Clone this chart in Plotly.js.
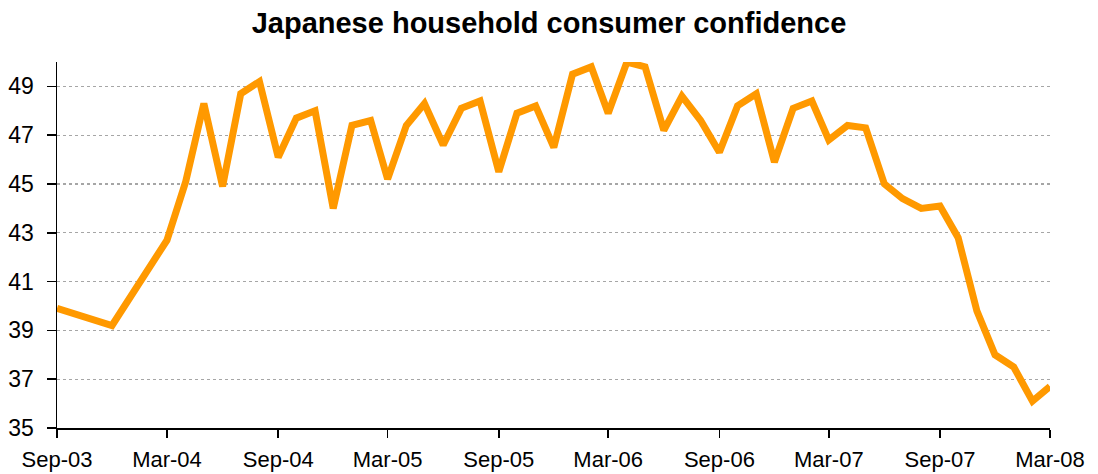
<!DOCTYPE html>
<html>
<head>
<meta charset="utf-8">
<script src="https://cdn.plot.ly/plotly-3.0.1.min.js"></script>
<style>
html,body{margin:0;padding:0;background:#fff;}
#chart{width:1098px;height:474px;}
</style>
</head>
<body>
<div id="chart"></div>
<script>
var months = [
  "2003-09-01","2003-12-01","2004-03-01",
  "2004-04-01","2004-05-01","2004-06-01","2004-07-01","2004-08-01","2004-09-01",
  "2004-10-01","2004-11-01","2004-12-01","2005-01-01","2005-02-01","2005-03-01",
  "2005-04-01","2005-05-01","2005-06-01","2005-07-01","2005-08-01","2005-09-01",
  "2005-10-01","2005-11-01","2005-12-01","2006-01-01","2006-02-01","2006-03-01",
  "2006-04-01","2006-05-01","2006-06-01","2006-07-01","2006-08-01","2006-09-01",
  "2006-10-01","2006-11-01","2006-12-01","2007-01-01","2007-02-01","2007-03-01",
  "2007-04-01","2007-05-01","2007-06-01","2007-07-01","2007-08-01","2007-09-01",
  "2007-10-01","2007-11-01","2007-12-01","2008-01-01","2008-02-01","2008-03-01"
];
var confidence = [
  39.9, 39.2, 42.7,
  45.1, 48.3, 44.9, 48.7, 49.2, 46.1,
  47.7, 48.0, 44.0, 47.4, 47.6, 45.2,
  47.4, 48.3, 46.6, 48.1, 48.4, 45.5,
  47.9, 48.2, 46.5, 49.5, 49.8, 47.9,
  50.0, 49.8, 47.2, 48.6, 47.6, 46.3,
  48.2, 48.7, 45.9, 48.1, 48.4, 46.8,
  47.4, 47.3, 45.0, 44.4, 44.0, 44.1,
  42.8, 39.8, 38.0, 37.5, 36.1, 36.7
];
var xTickVals = ["2003-09-01","2004-03-01","2004-09-01","2005-03-01","2005-09-01",
                 "2006-03-01","2006-09-01","2007-03-01","2007-09-01","2008-03-01"];
var xTickText = ["Sep-03","Mar-04","Sep-04","Mar-05","Sep-05",
                 "Mar-06","Sep-06","Mar-07","Sep-07","Mar-08"];
var yTickVals = [35, 37, 39, 41, 43, 45, 47, 49];

var trace = {
  x: months,
  y: confidence,
  type: "scatter",
  mode: "lines",
  line: {color: "#FF9900", width: 7},
  hoverinfo: "x+y"
};

var layout = {
  width: 1098,
  height: 474,
  margin: {l: 57, r: 48, t: 62, b: 46, pad: 0},
  paper_bgcolor: "#ffffff",
  plot_bgcolor: "#ffffff",
  showlegend: false,
  font: {family: "Liberation Sans, Arial, sans-serif", color: "#000000", size: 22},
  title: {
    text: "<b>Japanese household consumer confidence</b>",
    font: {family: "Liberation Sans, Arial, sans-serif", size: 29, color: "#000000"},
    x: 0.5, xanchor: "center",
    y: 0.952, yanchor: "middle"
  },
  xaxis: {
    type: "date",
    range: ["2003-09-01", "2008-03-01"],
    tickmode: "array",
    tickvals: xTickVals,
    ticktext: xTickText,
    ticks: "outside",
    ticklen: 8,
    tickwidth: 1.5,
    tickcolor: "#000000",
    showline: true,
    linecolor: "#000000",
    linewidth: 2,
    showgrid: false,
    zeroline: false,
    tickfont: {size: 22, color: "#000000"},
    ticklabelstandoff: 3,
    fixedrange: true
  },
  yaxis: {
    range: [35, 50],
    tickmode: "array",
    tickvals: yTickVals,
    ticks: "outside",
    ticklen: 9,
    tickwidth: 1.5,
    tickcolor: "#000000",
    showline: true,
    linecolor: "#000000",
    linewidth: 1.5,
    showgrid: true,
    gridcolor: "#a6a6a6",
    gridwidth: 1.2,
    griddash: "3px,3px",
    zeroline: false,
    tickfont: {size: 23, color: "#000000"},
    ticklabelstandoff: 8,
    fixedrange: true
  }
};

Plotly.newPlot("chart", [trace], layout, {displayModeBar: false, staticPlot: true});
</script>
</body>
</html>
